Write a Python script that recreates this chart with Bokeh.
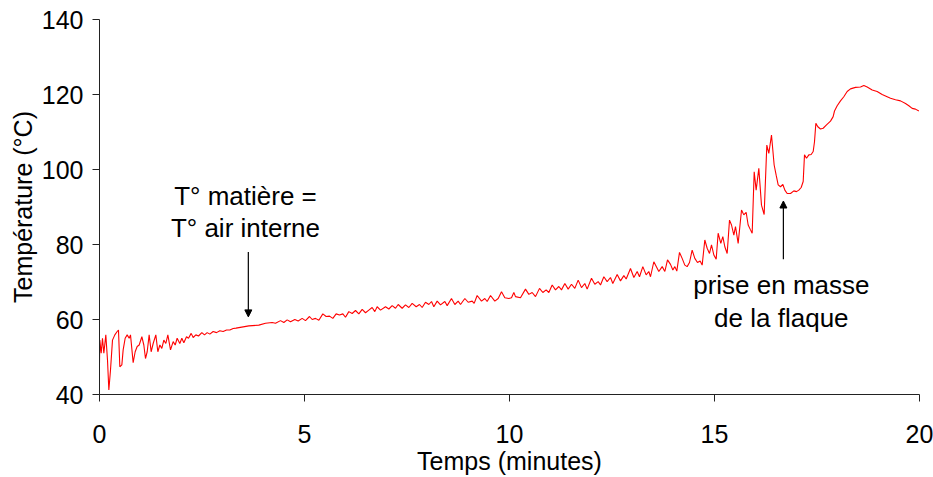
from bokeh.plotting import figure
from bokeh.models import FixedTicker, Arrow, NormalHead, Range1d
from bokeh.core.properties import value
from bokeh.embed import file_html
from bokeh.resources import INLINE

# ---- data ----
time_min = [
    0.000, 0.008, 0.041, 0.073, 0.106, 0.154, 0.195, 0.228, 0.268, 0.317,
    0.374, 0.431, 0.463, 0.496, 0.545, 0.577, 0.626, 0.675, 0.724, 0.756,
    0.821, 0.870, 0.919, 0.968, 1.033, 1.081, 1.122, 1.163, 1.211, 1.260,
    1.309, 1.374, 1.423, 1.472, 1.520, 1.569, 1.618, 1.667, 1.732, 1.797,
    1.846, 1.894, 1.959, 2.008, 2.057, 2.122, 2.171, 2.236, 2.285, 2.350,
    2.415, 2.496, 2.561, 2.626, 2.691, 2.772, 2.854, 2.935, 3.016, 3.098,
    3.179, 3.260, 3.330, 3.642, 3.886, 4.049, 4.211, 4.293, 4.415, 4.496,
    4.577, 4.659, 4.764, 4.846, 4.943, 5.024, 5.122, 5.187, 5.268, 5.350,
    5.447, 5.528, 5.610, 5.691, 5.772, 5.854, 5.935, 6.000, 6.081, 6.163,
    6.244, 6.325, 6.407, 6.488, 6.569, 6.650, 6.715, 6.772, 6.854, 6.976,
    7.057, 7.138, 7.220, 7.285, 7.382, 7.463, 7.545, 7.626, 7.724, 7.805,
    7.870, 7.951, 8.033, 8.098, 8.154, 8.236, 8.317, 8.423, 8.480, 8.585,
    8.667, 8.748, 8.805, 8.911, 8.992, 9.090, 9.138, 9.211, 9.317, 9.398,
    9.455, 9.537, 9.642, 9.724, 9.805, 9.886, 9.984, 10.049, 10.106, 10.146,
    10.268, 10.390, 10.472, 10.553, 10.634, 10.732, 10.813, 10.894, 10.959, 11.041,
    11.122, 11.203, 11.268, 11.350, 11.431, 11.512, 11.593, 11.675, 11.756, 11.837,
    11.894, 12.000, 12.081, 12.163, 12.220, 12.301, 12.382, 12.463, 12.520, 12.626,
    12.707, 12.789, 12.846, 12.951, 13.033, 13.114, 13.171, 13.252, 13.333, 13.398,
    13.439, 13.520, 13.642, 13.724, 13.789, 13.854, 13.927, 13.984, 14.033, 14.081,
    14.146, 14.211, 14.276, 14.333, 14.390, 14.455, 14.520, 14.585, 14.650, 14.699,
    14.764, 14.821, 14.878, 14.927, 14.984, 15.041, 15.089, 15.154, 15.203, 15.252,
    15.309, 15.366, 15.415, 15.472, 15.512, 15.577, 15.659, 15.715, 15.772, 15.821,
    15.878, 15.919, 15.968, 16.016, 16.081, 16.146, 16.211, 16.276, 16.325, 16.390,
    16.455, 16.504, 16.553, 16.610, 16.667, 16.716, 16.772, 16.854, 16.935, 17.000,
    17.057, 17.114, 17.163, 17.195, 17.244, 17.301, 17.358, 17.407, 17.439, 17.472,
    17.520, 17.585, 17.650, 17.732, 17.829, 17.894, 17.927, 17.992, 18.073, 18.154,
    18.236, 18.317, 18.439, 18.561, 18.642, 18.724, 18.846, 18.967, 19.089, 19.211,
    19.293, 19.415, 19.537, 19.659, 19.740, 19.821, 19.902, 19.984,
]
temp_c = [
    48.5, 54.5, 51.0, 55.0, 51.0, 55.9, 49.2, 41.2, 46.5, 54.5,
    55.9, 56.8, 57.2, 47.4, 47.9, 51.9, 55.0, 55.9, 55.0, 55.9,
    48.5, 51.4, 52.8, 53.2, 55.4, 53.2, 49.6, 51.4, 55.9, 51.4,
    53.6, 55.9, 51.4, 53.2, 52.3, 54.5, 53.6, 55.9, 51.9, 54.1,
    53.2, 55.0, 53.6, 55.0, 53.8, 55.4, 55.0, 56.3, 55.2, 55.9,
    55.6, 56.5, 55.9, 56.5, 56.1, 56.8, 56.5, 57.0, 56.8, 57.2,
    57.2, 57.6, 57.7, 58.3, 58.5, 59.0, 59.2, 59.0, 59.7, 59.2,
    59.9, 59.4, 60.0, 59.6, 60.3, 59.7, 60.8, 60.0, 60.3, 59.8,
    61.5, 60.8, 60.9, 60.3, 61.5, 61.2, 61.5, 60.6, 62.1, 61.6,
    62.4, 61.5, 62.7, 61.8, 62.5, 63.2, 62.1, 63.4, 62.5, 63.4,
    62.8, 63.7, 63.0, 64.0, 63.0, 63.9, 63.2, 64.3, 63.4, 64.0,
    63.2, 64.6, 64.0, 64.8, 63.4, 64.9, 63.9, 64.8, 63.7, 65.6,
    64.0, 64.9, 64.0, 65.6, 64.6, 64.9, 64.3, 66.4, 64.9, 65.6,
    64.8, 66.4, 64.9, 65.6, 67.4, 65.8, 65.6, 65.8, 67.2, 66.1,
    65.8, 68.1, 66.7, 67.2, 66.1, 68.3, 67.2, 67.9, 67.2, 69.2,
    67.9, 68.8, 67.9, 69.6, 68.1, 69.4, 68.3, 70.5, 68.5, 69.6,
    68.1, 71.0, 69.4, 70.1, 69.2, 71.4, 70.1, 71.2, 69.6, 72.0,
    70.3, 71.7, 70.8, 73.6, 71.2, 72.8, 71.4, 74.1, 71.9, 72.8,
    71.4, 75.4, 72.8, 74.1, 72.8, 75.9, 74.7, 73.2, 74.1, 72.9,
    77.9, 76.3, 74.5, 74.1, 75.2, 78.5, 76.3, 75.2, 75.6, 74.5,
    81.2, 79.0, 77.6, 79.9, 77.2, 76.1, 83.0, 80.3, 82.1, 79.4,
    77.6, 86.5, 85.2, 82.5, 84.8, 80.3, 89.2, 87.9, 88.6, 85.2,
    83.9, 83.0, 99.4, 94.5, 100.3, 90.5, 88.0, 106.5, 104.3, 109.2,
    101.2, 98.5, 95.9, 95.4, 96.0, 94.5, 93.6, 93.6, 94.3, 94.1,
    94.5, 95.2, 96.8, 103.9, 103.0, 103.9, 104.0, 104.8, 107.4, 112.3,
    111.4, 110.8, 111.0, 111.9, 112.9, 114.1, 115.6, 117.0, 118.3, 119.4,
    120.8, 121.5, 121.9, 122.0, 122.4, 122.0, 121.2, 120.8, 120.0, 119.4,
    119.0, 118.6, 118.3, 117.6, 117.0, 116.3, 116.1, 115.6,
]

x_ticks = [0, 5, 10, 15, 20]
y_ticks = [40, 60, 80, 100, 120, 140]

# annotations (data coordinates)
note1_lines = ["T° matière =", "T° air interne"]
note1_x = 3.56
note1_y = [92.9, 84.4]
arrow1_x = 3.63
arrow1_y = [78.0, 60.7]

note2_lines = ["prise en masse", "de la flaque"]
note2_x = 16.63
note2_y = [69.2, 60.4]
arrow2_x = 16.68
arrow2_y = [76.1, 91.6]

FONT = "Liberation Sans"
FS = "25px"
FS_NOTE = "26px"

p = figure(
    width=933, height=477,
    frame_width=820, frame_height=375,
    min_border_left=99, min_border_top=19, min_border_right=14, min_border_bottom=83,
    x_range=Range1d(0, 20), y_range=Range1d(40, 140),
    output_backend="svg", toolbar_location=None,
)
p.outline_line_color = None
p.xgrid.visible = False
p.ygrid.visible = False
p.background_fill_color = "white"
p.border_fill_color = "white"

p.line(time_min, temp_c, line_color="#FF0000", line_width=1.1)

for ax in (p.xaxis[0], p.yaxis[0]):
    ax.axis_line_color = "#222222"
    ax.major_tick_line_color = "#222222"
    ax.major_tick_in = 0
    ax.major_tick_out = 7
    ax.minor_tick_line_color = None
    ax.major_label_text_font = FONT
    ax.major_label_text_font_size = FS
    ax.major_label_text_color = "black"
    ax.axis_label_text_font = FONT
    ax.axis_label_text_font_size = FS
    ax.axis_label_text_font_style = "normal"
    ax.axis_label_text_color = "black"

p.xaxis.ticker = FixedTicker(ticks=x_ticks)
p.yaxis.ticker = FixedTicker(ticks=y_ticks)
p.xaxis.axis_label = "Temps (minutes)"
p.yaxis.axis_label = "Température (°C)"
p.xaxis.major_label_standoff = 23
p.xaxis.axis_label_standoff = 1
p.yaxis.major_label_standoff = 9
p.yaxis.axis_label_standoff = 2

p.text(x=[note1_x] * 2, y=note1_y, text=note1_lines, text_align="center",
       text_baseline="middle", text_font=value(FONT), text_font_size=FS_NOTE,
       text_color="black")
p.text(x=[note2_x] * 2, y=note2_y, text=note2_lines, text_align="center",
       text_baseline="middle", text_font=value(FONT), text_font_size=FS_NOTE,
       text_color="black")

for ax_x, (y0, y1) in ((arrow1_x, arrow1_y), (arrow2_x, arrow2_y)):
    p.add_layout(Arrow(
        end=NormalHead(size=7, fill_color="black", line_color="black"),
        x_start=ax_x, y_start=y0, x_end=ax_x, y_end=y1,
        line_color="black", line_width=1.2,
    ))

open("out.html", "w").write(file_html(p, INLINE))
